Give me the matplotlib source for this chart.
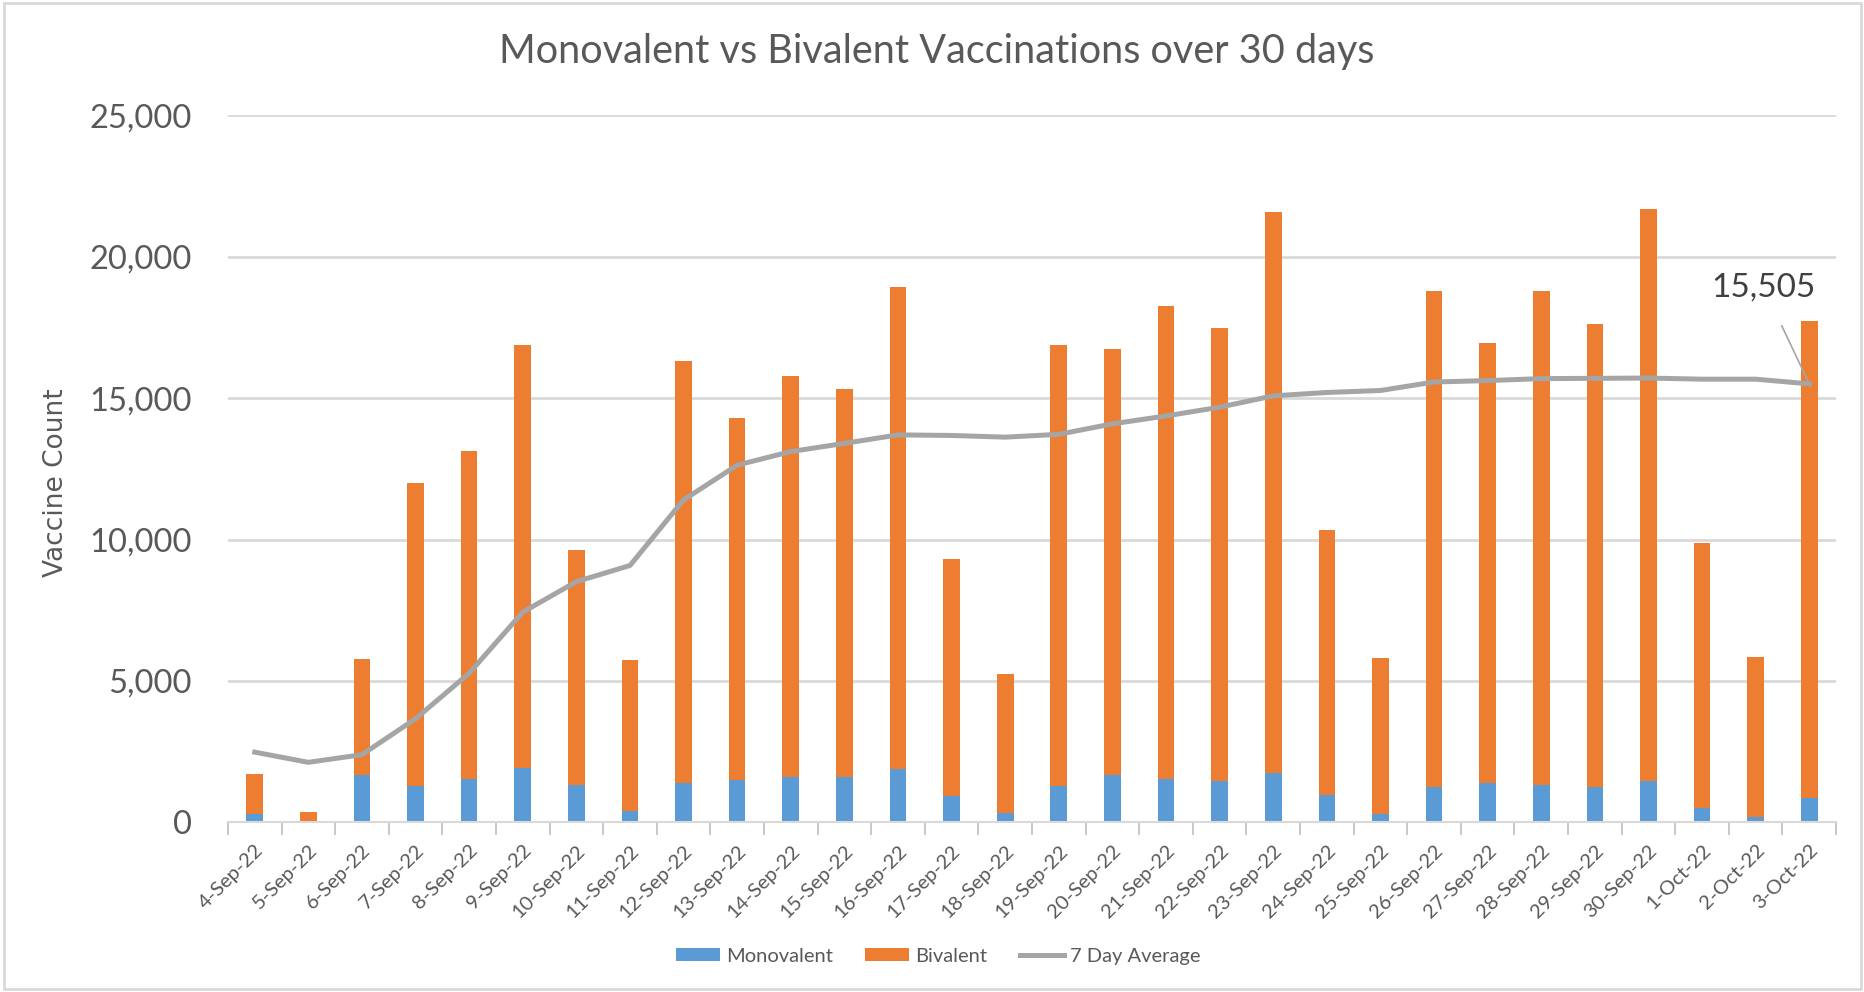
import matplotlib.pyplot as plt
import numpy as np

dates = ['4-Sep-22', '5-Sep-22', '6-Sep-22', '7-Sep-22', '8-Sep-22', '9-Sep-22',
         '10-Sep-22', '11-Sep-22', '12-Sep-22', '13-Sep-22', '14-Sep-22', '15-Sep-22',
         '16-Sep-22', '17-Sep-22', '18-Sep-22', '19-Sep-22', '20-Sep-22', '21-Sep-22',
         '22-Sep-22', '23-Sep-22', '24-Sep-22', '25-Sep-22', '26-Sep-22', '27-Sep-22',
         '28-Sep-22', '29-Sep-22', '30-Sep-22', '1-Oct-22', '2-Oct-22', '3-Oct-22']

# daily totals
total = [1700, 380, 5780, 12010, 13130, 16870, 9640, 5730, 16300, 14300,
         15800, 15340, 18920, 9300, 5240, 16870, 16720, 18250, 17490, 21580,
         10350, 5810, 18790, 16960, 18790, 17620, 21690, 9860, 5860, 17740]
monovalent = [310, 60, 1660, 1300, 1530, 1920, 1330, 390, 1380, 1500,
              1590, 1590, 1880, 920, 330, 1300, 1660, 1530, 1450, 1750,
              950, 300, 1250, 1380, 1330, 1250, 1450, 500, 200, 870]
bivalent = [t - m for t, m in zip(total, monovalent)]
avg7 = [2480, 2120, 2390, 3660, 5270, 7430, 8510, 9080, 11400, 12630,
        13110, 13400, 13700, 13680, 13620, 13720, 14090, 14370, 14680, 15080,
        15200, 15270, 15570, 15620, 15690, 15700, 15710, 15670, 15670, 15505]

blue = '#5B9BD5'
orange = '#ED7D31'
grey = '#A5A5A5'
txt = '#595959'
font = ['Lato', 'DejaVu Sans']

fig = plt.figure(figsize=(18.65, 9.92), dpi=100)
ax = fig.add_axes([0.1222, 0.1711, 0.8623, 0.7126])

x = np.arange(len(dates))
b1 = ax.bar(x, monovalent, 0.31, color=blue, label='Monovalent', zorder=2)
b2 = ax.bar(x, bivalent, 0.31, bottom=monovalent, color=orange, label='Bivalent', zorder=2)
ln, = ax.plot(x, avg7, color=grey, lw=3.6, label='7 Day Average', zorder=3)

ax.set_xlim(-0.5, len(dates) - 0.5)
ax.set_ylim(0, 25000)
ax.set_yticks(range(0, 25001, 5000))
ax.set_yticklabels([f'{v:,}' for v in range(0, 25001, 5000)],
                   fontsize=23.5, color=txt, family=font)
ax.grid(axis='y', color='#D9D9D9', lw=2, zorder=0)
ax.tick_params(axis='y', length=0, pad=26)

ax.set_xticks(x)
ax.set_xticklabels(dates, rotation=45, ha='right', rotation_mode='anchor',
                   fontsize=14.5, color=txt, family=font)
ax.set_xticks(np.arange(-0.5, len(dates)), minor=True)
ax.tick_params(axis='x', which='major', length=0, pad=14)
ax.tick_params(axis='x', which='minor', length=9, width=1.2, color='#BFBFBF')

for s in ['top', 'right', 'left']:
    ax.spines[s].set_visible(False)
ax.spines['bottom'].set_color('#D9D9D9')
ax.spines['bottom'].set_linewidth(1.5)

ax.set_ylabel('Vaccine Count', fontsize=19, color=txt, family='DejaVu Sans', va='center')
ax.yaxis.set_label_coords(-0.107, 0.48)

fig.text(0.502, 0.948, 'Monovalent vs Bivalent Vaccinations over 30 days',
         ha='center', va='center', fontsize=28.5, color=txt, family=font)

ax.annotate(f'{avg7[-1]:,}', xy=(x[-1], avg7[-1]), xytext=(x[-1] - 0.85, 18900),
            ha='center', va='center', fontsize=24, color='#404040', family=font,
            arrowprops=dict(arrowstyle='-', color=grey, lw=1.2, shrinkA=16, shrinkB=0))

leg = fig.legend([b1, b2, ln], ['Monovalent', 'Bivalent', '7 Day Average'],
                 loc='center', bbox_to_anchor=(0.503, 0.036), ncol=3, frameon=False,
                 fontsize=14.5, handlelength=2.2, handleheight=0.6, columnspacing=1.6,
                 handletextpad=0.3)
for t in leg.get_texts():
    t.set_color(txt)
    t.set_family(font)

fig.patches.append(plt.Rectangle((0.002, 0.003), 0.996, 0.994, transform=fig.transFigure,
                                 fill=False, edgecolor='#D9D9D9', lw=2))

fig.savefig('out.png', dpi=100)
